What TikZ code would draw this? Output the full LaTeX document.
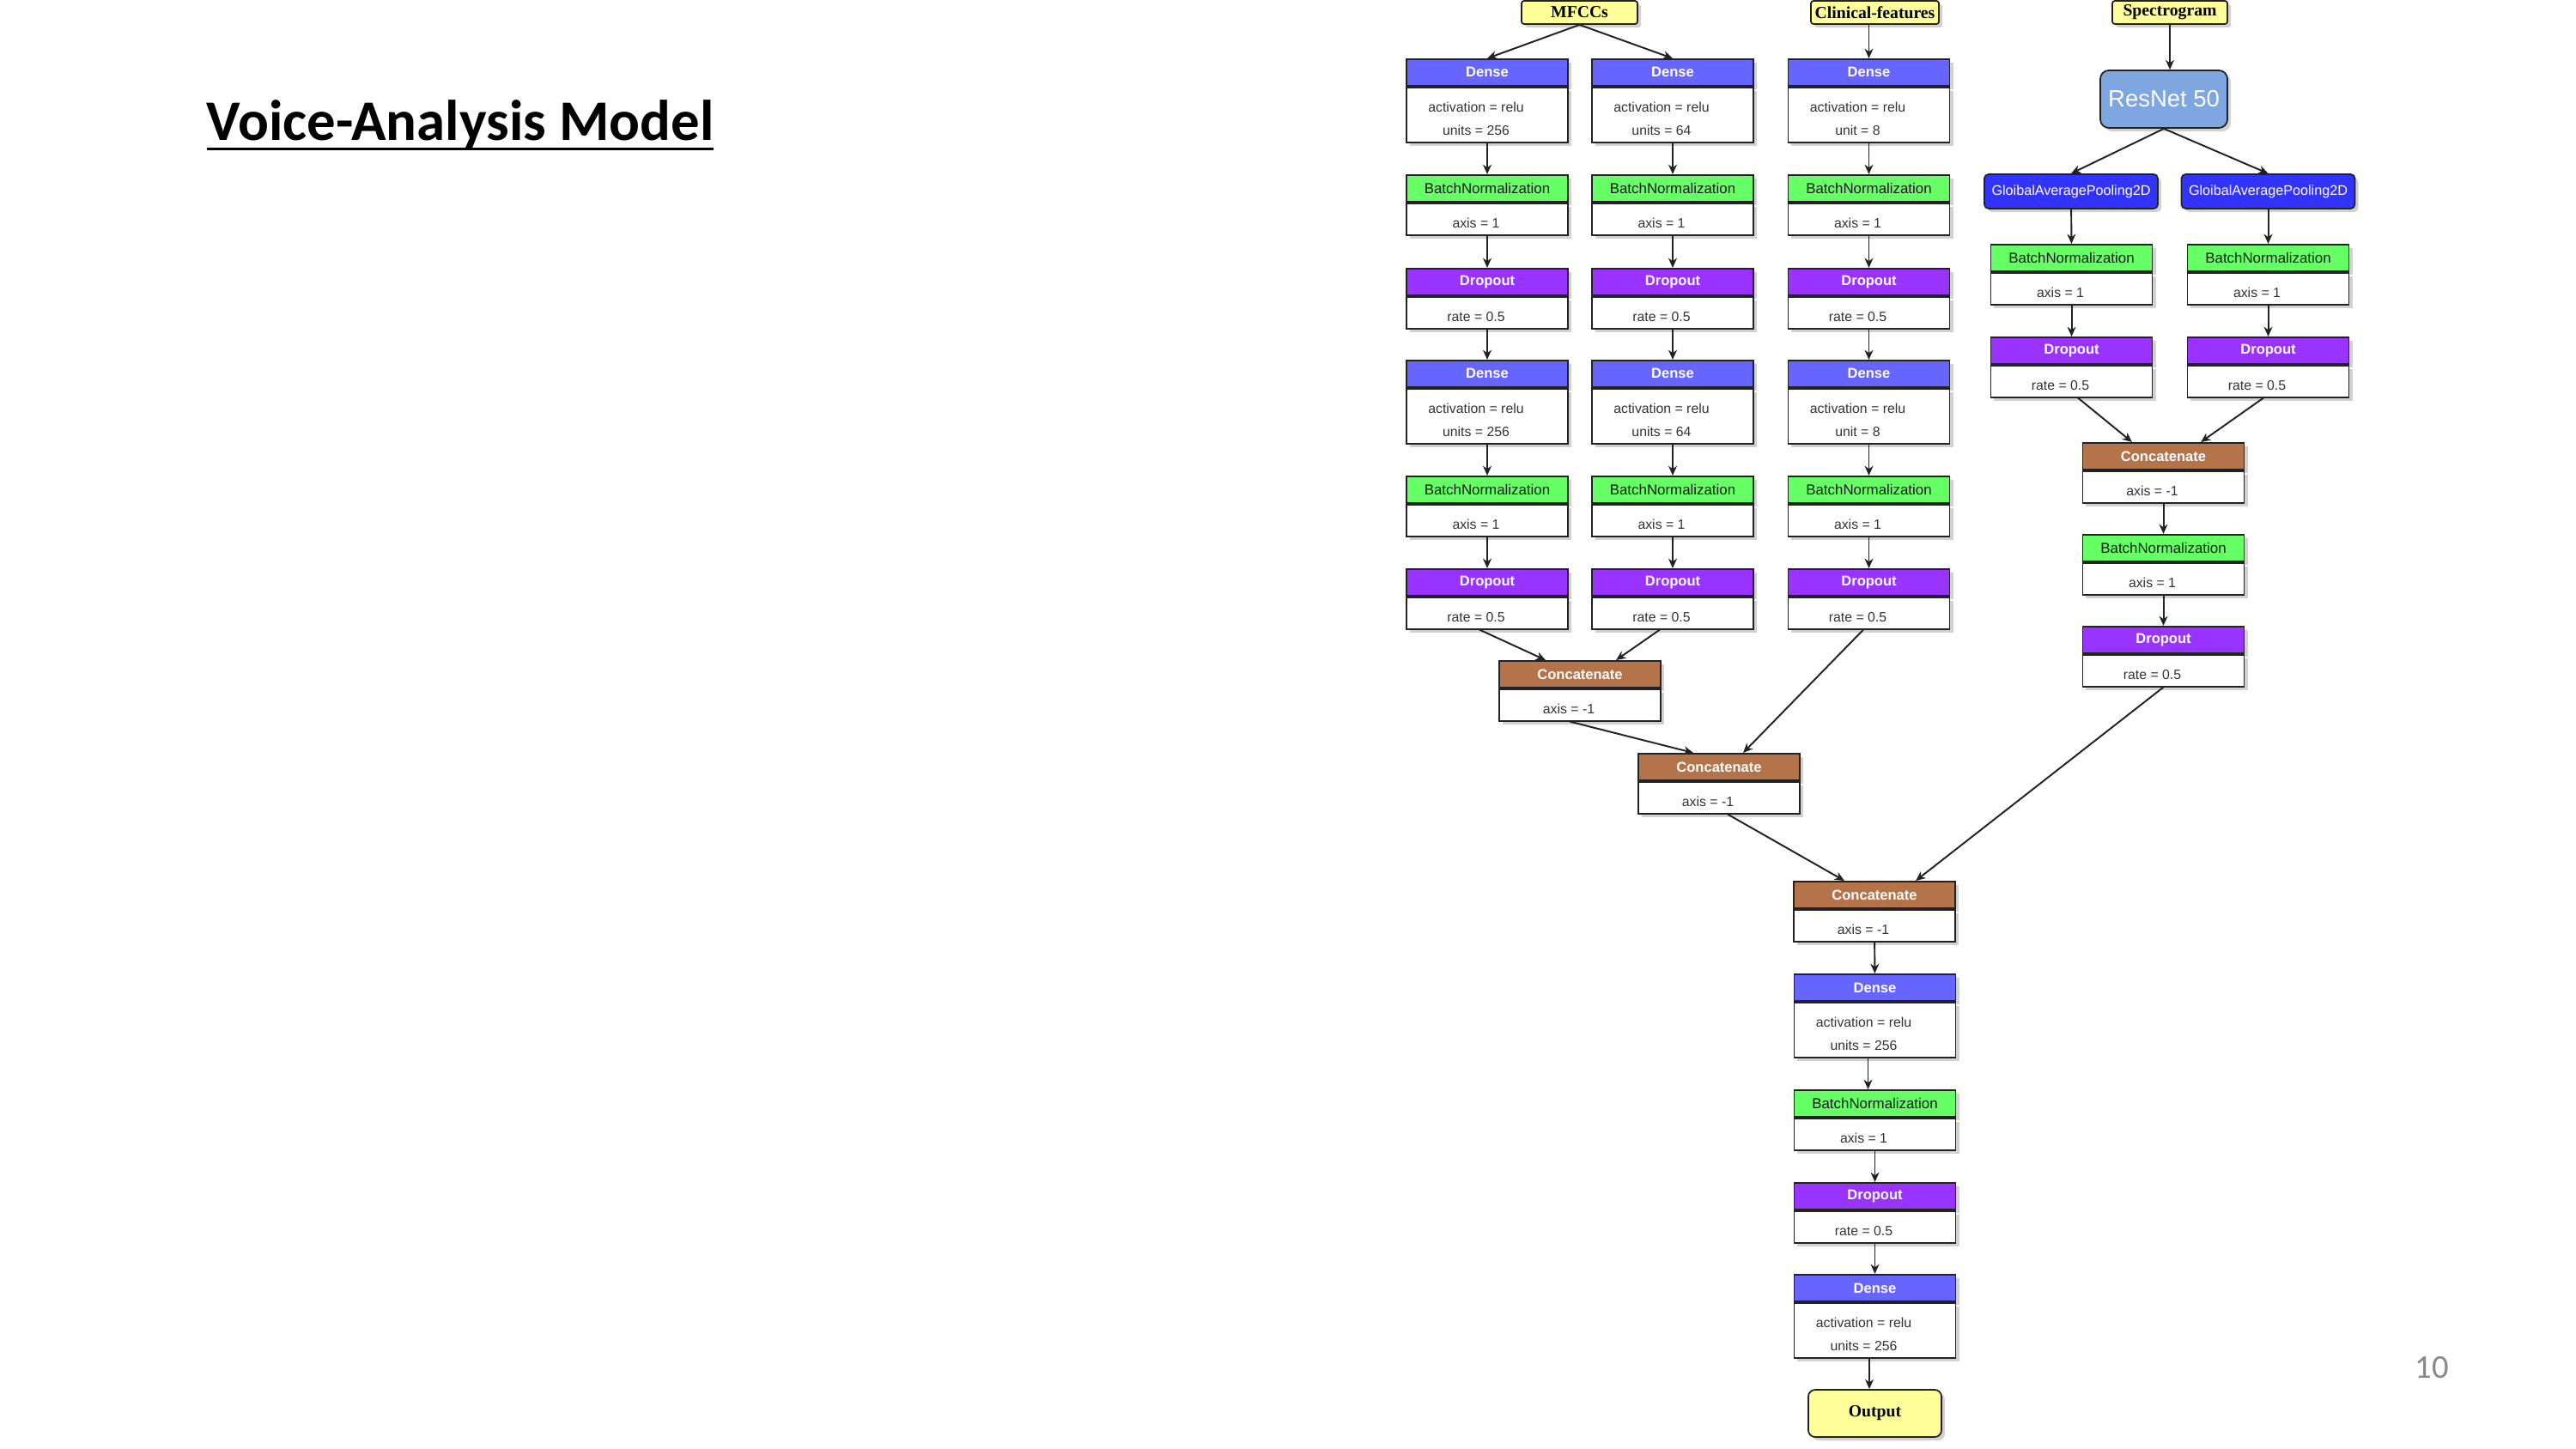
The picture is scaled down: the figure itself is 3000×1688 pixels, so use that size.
\documentclass[tikz,border=0pt]{standalone}
\usepackage{fontspec}
\usepackage{xcolor}
\usepackage{tikz}
\usetikzlibrary{arrows.meta,positioning,shadows}
\setmainfont{Liberation Sans}
\newfontfamily\titlefont{Carlito}
\newfontfamily\boxfont{Liberation Sans}
\newfontfamily\iofont{Liberation Serif}
\definecolor{densecol}{RGB}{102,102,255}
\definecolor{bncol}{RGB}{102,255,102}
\definecolor{dropcol}{RGB}{153,51,255}
\definecolor{catcol}{RGB}{181,115,74}
\definecolor{gapcol}{RGB}{51,51,255}
\definecolor{rescol}{RGB}{126,166,224}
\definecolor{iocol}{RGB}{255,255,153}
\definecolor{pagegray}{RGB}{137,137,137}
\definecolor{edgecol}{RGB}{34,34,34}

\begin{document}
\begin{tikzpicture}[x=0.01cm,y=-0.01cm,
        >={Stealth[length=3.2pt,width=2.8pt,inset=1pt]},
        conn/.style={->,draw=edgecol,line width=.55pt},
        boxshadow/.style={drop shadow={shadow xshift=.04cm,shadow yshift=-.04cm,opacity=.18,fill=black}},
        hdr/.style={boxshadow,draw=edgecol,line width=.5pt,minimum width=1.88cm,minimum height=.31cm,inner sep=0pt,anchor=north},
        densehd/.style={hdr,fill=densecol,text=white,font=\boxfont\fontsize{4.7}{6}\selectfont\bfseries},
        bnhd/.style={hdr,fill=bncol,text=black!90,font=\boxfont\fontsize{4.8}{6}\selectfont},
        drophd/.style={hdr,fill=dropcol,text=white,font=\boxfont\fontsize{4.7}{6}\selectfont\bfseries},
        cathd/.style={hdr,fill=catcol,text=white,font=\boxfont\fontsize{4.7}{6}\selectfont\bfseries},
        bodybox/.style={boxshadow,draw=edgecol,fill=white,line width=.5pt,minimum width=1.88cm,minimum height=.37cm,inner sep=0pt,
            text=black!80,font=\boxfont\fontsize{4.5}{7.7}\selectfont,align=center,
            text height=6pt,text depth=0pt,execute at begin node={\kern-7.4pt}},
        densebody/.style={bodybox,minimum height=.64cm,text height=13.7pt},
        iobox/.style={boxshadow,draw=edgecol,fill=iocol,line width=.5pt,rounded corners=.03cm,inner sep=0pt,font=\iofont\fontsize{5.6}{7}\selectfont\bfseries},
        resbox/.style={boxshadow,draw=edgecol,fill=rescol,line width=.5pt,rounded corners=.1cm,minimum width=1.48cm,minimum height=.67cm,inner sep=0pt,text=white,font=\boxfont\fontsize{7.8}{9}\selectfont},
        gapbox/.style={boxshadow,draw=edgecol,fill=gapcol,line width=.5pt,rounded corners=.05cm,minimum width=2.02cm,minimum height=.40cm,inner sep=0pt,text=white,font=\boxfont\fontsize{4.6}{6}\selectfont}]
        \fill[white] (0,0) rectangle (3000,1688);
        \useasboundingbox (0,0) rectangle (3000,1688);

        %title and page number
        \node[anchor=base west,inner sep=0pt,font=\titlefont\fontsize{19}{23}\selectfont\bfseries] (title) at (240,163)
            {\setbox0\hbox{Voice-Analysis Model}\rlap{\rule[-3.5pt]{\wd0}{0.9pt}}\box0};
        \node[anchor=base west,inner sep=0pt,text=pagegray,font=\titlefont\fontsize{11}{13}\selectfont] (pnum) at (2812,1605) {10};

        %inputs
        \node[iobox,minimum width=1.35cm,minimum height=.27cm] (mfcc) at (1839.5,14.5) {MFCCs};
        \node[iobox,minimum width=1.49cm,minimum height=.27cm] (clin) at (2183.5,14.5) {Clinical-features};
        \node[iobox,minimum width=1.34cm,minimum height=.27cm] (spec) at (2527,14.5) {Spectrogram};

        %MFCCs column 1
        \node[densehd] (d1) at (1732,68) {Dense};
        \node[densebody,below=0pt of d1] (d1b) {activation = relu\\units = 256};
        \node[bnhd] (n1) at (1732,203) {BatchNormalization};
        \node[bodybox,below=0pt of n1] (n1b) {axis = 1};
        \node[drophd] (p1) at (1732,312) {Dropout};
        \node[bodybox,below=0pt of p1] (p1b) {rate = 0.5};
        \node[densehd] (d4) at (1732,419) {Dense};
        \node[densebody,below=0pt of d4] (d4b) {activation = relu\\units = 256};
        \node[bnhd] (n4) at (1732,554) {BatchNormalization};
        \node[bodybox,below=0pt of n4] (n4b) {axis = 1};
        \node[drophd] (p4) at (1732,662) {Dropout};
        \node[bodybox,below=0pt of p4] (p4b) {rate = 0.5};

        %MFCCs column 2
        \node[densehd] (d2) at (1948,68) {Dense};
        \node[densebody,below=0pt of d2] (d2b) {activation = relu\\units = 64};
        \node[bnhd] (n2) at (1948,203) {BatchNormalization};
        \node[bodybox,below=0pt of n2] (n2b) {axis = 1};
        \node[drophd] (p2) at (1948,312) {Dropout};
        \node[bodybox,below=0pt of p2] (p2b) {rate = 0.5};
        \node[densehd] (d5) at (1948,419) {Dense};
        \node[densebody,below=0pt of d5] (d5b) {activation = relu\\units = 64};
        \node[bnhd] (n5) at (1948,554) {BatchNormalization};
        \node[bodybox,below=0pt of n5] (n5b) {axis = 1};
        \node[drophd] (p5) at (1948,662) {Dropout};
        \node[bodybox,below=0pt of p5] (p5b) {rate = 0.5};

        %clinical column
        \node[densehd] (d3) at (2176.5,68) {Dense};
        \node[densebody,below=0pt of d3] (d3b) {activation = relu\\unit = 8};
        \node[bnhd] (n3) at (2176.5,203) {BatchNormalization};
        \node[bodybox,below=0pt of n3] (n3b) {axis = 1};
        \node[drophd] (p3) at (2176.5,312) {Dropout};
        \node[bodybox,below=0pt of p3] (p3b) {rate = 0.5};
        \node[densehd] (d6) at (2176.5,419) {Dense};
        \node[densebody,below=0pt of d6] (d6b) {activation = relu\\unit = 8};
        \node[bnhd] (n6) at (2176.5,554) {BatchNormalization};
        \node[bodybox,below=0pt of n6] (n6b) {axis = 1};
        \node[drophd] (p6) at (2176.5,662) {Dropout};
        \node[bodybox,below=0pt of p6] (p6b) {rate = 0.5};

        %spectrogram branch
        \node[resbox] (res) at (2520,115.5) {ResNet 50};
        \node[gapbox] (g1) at (2412,223) {GloibalAveragePooling2D};
        \node[gapbox] (g2) at (2641.5,223) {GloibalAveragePooling2D};
        \node[bnhd] (n7) at (2412.5,284) {BatchNormalization};
        \node[bodybox,below=0pt of n7] (n7b) {axis = 1};
        \node[drophd] (p7) at (2412.5,392) {Dropout};
        \node[bodybox,below=0pt of p7] (p7b) {rate = 0.5};
        \node[bnhd] (n8) at (2641.5,284) {BatchNormalization};
        \node[bodybox,below=0pt of n8] (n8b) {axis = 1};
        \node[drophd] (p8) at (2641.5,392) {Dropout};
        \node[bodybox,below=0pt of p8] (p8b) {rate = 0.5};
        \node[cathd] (c4) at (2519.5,515) {Concatenate};
        \node[bodybox,below=0pt of c4] (c4b) {axis = -1};
        \node[bnhd] (n9) at (2519.5,622) {BatchNormalization};
        \node[bodybox,below=0pt of n9] (n9b) {axis = 1};
        \node[drophd] (p9) at (2519.5,729) {Dropout};
        \node[bodybox,below=0pt of p9] (p9b) {rate = 0.5};

        %merging
        \node[cathd] (c1) at (1840,769) {Concatenate};
        \node[bodybox,below=0pt of c1] (c1b) {axis = -1};
        \node[cathd] (c2) at (2002,877) {Concatenate};
        \node[bodybox,below=0pt of c2] (c2b) {axis = -1};
        \node[cathd] (c3) at (2183,1026) {Concatenate};
        \node[bodybox,below=0pt of c3] (c3b) {axis = -1};

        %head
        \node[densehd] (d7) at (2183.5,1134) {Dense};
        \node[densebody,below=0pt of d7] (d7b) {activation = relu\\units = 256};
        \node[bnhd] (n10) at (2183.5,1269) {BatchNormalization};
        \node[bodybox,below=0pt of n10] (n10b) {axis = 1};
        \node[drophd] (p10) at (2183.5,1377) {Dropout};
        \node[bodybox,below=0pt of p10] (p10b) {rate = 0.5};
        \node[densehd] (d8) at (2183.5,1484) {Dense};
        \node[densebody,below=0pt of d8] (d8b) {activation = relu\\units = 256};
        \node[iobox,rounded corners=.08cm,minimum width=1.55cm,minimum height=.55cm] (out) at (2183.5,1646.5) {Output};

        %connectors
        \path[every edge/.style={conn}] (mfcc.south) edge (d1.north) (mfcc.south) edge (d2.north) (clin.south -| d3.north) edge (d3.north)
        (d1b) edge (n1) (n1b) edge (p1) (p1b) edge (d4) (d4b) edge (n4) (n4b) edge (p4)
        (d2b) edge (n2) (n2b) edge (p2) (p2b) edge (d5) (d5b) edge (n5) (n5b) edge (p5)
        (d3b) edge (n3) (n3b) edge (p3) (p3b) edge (d6) (d6b) edge (n6) (n6b) edge (p6);
        \path[every edge/.style={conn}] (spec.south) edge (spec.south |- res.north) (res.south) edge (g1.north) (res.south) edge (g2.north)
        (g1) edge (n7) (g2) edge (n8) (n7b) edge (p7) (n8b) edge (p8)
        ([xshift=.075cm]p7b.south) edge ([xshift=-.365cm]c4.north) ([xshift=-.055cm]p8b.south) edge ([xshift=.435cm]c4.north)
        (c4b) edge (n9) (n9b) edge (p9);
        \path[every edge/.style={conn}] ([xshift=-.09cm]p4b.south) edge ([xshift=-.40cm]c1.north) ([xshift=-.15cm]p5b.south) edge ([xshift=.42cm]c1.north)
        ([xshift=-.065cm]p6b.south) edge ([xshift=.28cm]c2.north) ([xshift=-.12cm]c1b.south) edge ([xshift=-.30cm]c2.north)
        ([xshift=.10cm]c2b.south) edge ([xshift=-.35cm]c3.north) (p9b.south) edge ([xshift=.48cm]c3.north);
        \path[every edge/.style={conn}] (c3b) edge (d7) ([xshift=-.08cm]d7b.south) edge ([xshift=-.08cm]n10.north) (n10b) edge (p10) (p10b) edge (d8)
        ([xshift=-.065cm]d8b.south) edge ([xshift=-.065cm]out.north);
\end{tikzpicture}
\end{document}
